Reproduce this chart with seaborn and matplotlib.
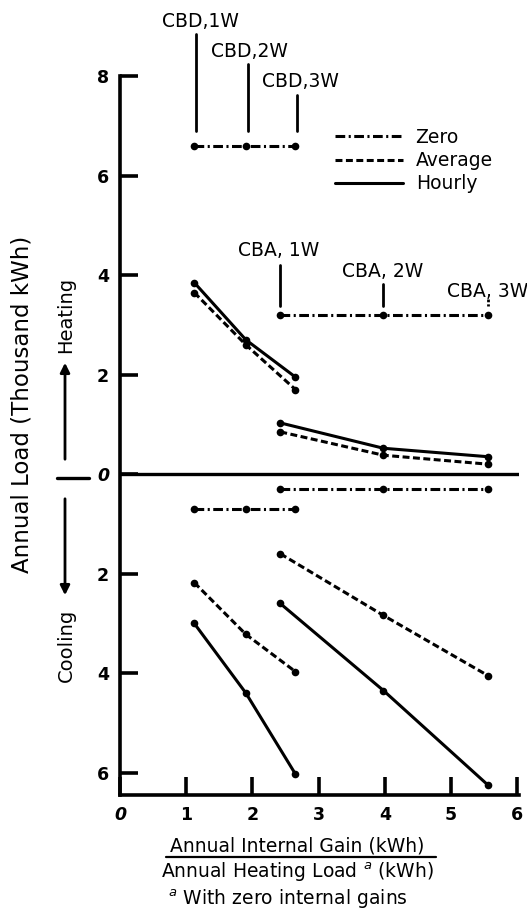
import matplotlib
matplotlib.use("Agg")
import matplotlib.pyplot as plt
from matplotlib.lines import Line2D
import pandas as pd
import seaborn as sns

# Data (cooling loads are plotted below zero)
x_cbd = [1.12, 1.9, 2.65]
x_cba = [2.42, 3.98, 5.56]

cbd_heat_zero = [6.6, 6.6, 6.6]
cbd_heat_avg = [3.65, 2.6, 1.7]
cbd_heat_hourly = [3.85, 2.7, 1.95]
cba_heat_zero = [3.2, 3.2, 3.2]
cba_heat_avg = [0.85, 0.38, 0.2]
cba_heat_hourly = [1.03, 0.52, 0.35]

cbd_cool_zero = [0.7, 0.7, 0.7]
cbd_cool_avg = [2.18, 3.22, 3.97]
cbd_cool_hourly = [3.0, 4.4, 6.03]
cba_cool_zero = [0.3, 0.3, 0.3]
cba_cool_avg = [1.6, 2.84, 4.05]
cba_cool_hourly = [2.6, 4.35, 6.25]

y_ticks = [-6, -4, -2, 0, 2, 4, 6, 8]
y_ticklabels = ['6', '4', '2', '0', '2', '4', '6', '8']
x_ticks = [0, 1, 2, 3, 4, 5, 6]

# case labels: (text, text x, text y, line x, line top, line bottom)
case_labels = [('CBD,1W', 1.22, 9.1, 1.14, 8.85, 6.9),
               ('CBD,2W', 1.95, 8.5, 1.93, 8.25, 6.9),
               ('CBD,3W', 2.72, 7.9, 2.68, 7.63, 6.9),
               ('CBA, 1W', 2.4, 4.5, 2.42, 4.2, 3.38),
               ('CBA, 2W', 3.97, 4.07, 3.98, 3.82, 3.38),
               ('CBA, 3W', 5.56, 3.68, 5.56, 3.53, 3.38)]

sns.set_style('ticks')
plt.rcParams['font.family'] = ['DejaVu Sans']
plt.rcParams['lines.scale_dashes'] = False
plt.rcParams['axes.edgecolor'] = 'black'
plt.rcParams['xtick.color'] = 'black'
plt.rcParams['ytick.color'] = 'black'
plt.rcParams['text.color'] = 'black'

styles = {
    'Zero': (0, (7, 2.5, 1.5, 2.5)),
    'Average': (0, (5, 2.5)),
    'Hourly': '-',
}

series = [
    (x_cbd, cbd_heat_zero, 'Zero', 1), (x_cbd, cbd_heat_avg, 'Average', 1),
    (x_cbd, cbd_heat_hourly, 'Hourly', 1), (x_cba, cba_heat_zero, 'Zero', 1),
    (x_cba, cba_heat_avg, 'Average', 1), (x_cba, cba_heat_hourly, 'Hourly', 1),
    (x_cbd, cbd_cool_zero, 'Zero', -1), (x_cbd, cbd_cool_avg, 'Average', -1),
    (x_cbd, cbd_cool_hourly, 'Hourly', -1), (x_cba, cba_cool_zero, 'Zero', -1),
    (x_cba, cba_cool_avg, 'Average', -1), (x_cba, cba_cool_hourly, 'Hourly', -1),
]

fig = plt.figure(figsize=(5.27, 9.17), dpi=100)
ax = fig.add_axes([0.228, 0.133, 0.757, 0.784])

for xs, ys, method, sign in series:
    d = pd.DataFrame({'x': xs, 'y': [sign * v for v in ys]})
    sns.lineplot(data=d, x='x', y='y', ax=ax, color='black', linewidth=2.2,
                 linestyle=styles[method], marker='o', markersize=5.5,
                 markeredgewidth=0, clip_on=False)

ax.axhline(0, color='black', linewidth=2.4)

for txt, tx, ty, lx, top, bot in case_labels:
    ls = (0, (2, 1.5)) if txt == 'CBA, 3W' else '-'
    ax.plot([lx, lx], [top, bot], color='black', linewidth=2.0, linestyle=ls,
            clip_on=False)
    ax.text(tx, ty, txt, ha='center', va='center', fontsize=13.5, clip_on=False)

ax.set_xlim(0, 6.03)
ax.set_ylim(-6.45, 8)
ax.set_xticks(x_ticks)
ax.set_yticks(y_ticks)
ax.set_yticklabels(y_ticklabels)
ax.set_xlabel('')
ax.set_ylabel('')
ax.tick_params(direction='in', length=13, width=2.6, labelsize=12.5, pad=8,
               labelcolor='black')
for lbl in ax.get_xticklabels() + ax.get_yticklabels():
    lbl.set_fontweight('bold')
    if lbl.get_text() == '0':
        lbl.set_fontstyle('italic')
for s in ['top', 'right']:
    ax.spines[s].set_visible(False)
for s in ['left', 'bottom']:
    ax.spines[s].set_linewidth(2.6)

# legend
handles = [Line2D([], [], color='black', linewidth=2.2, linestyle=styles[m])
           for m in ['Zero', 'Average', 'Hourly']]
leg = ax.legend(handles, ['Zero', 'Average', 'Hourly'], loc='upper left',
                bbox_to_anchor=(335 / 527, 1 - 128 / 917),
                bbox_transform=fig.transFigure, frameon=False, fontsize=13.5,
                handlelength=3.6, handletextpad=0.7, labelspacing=0.22,
                borderpad=0, borderaxespad=0)
for t in leg.get_texts():
    t.set_color('black')

# y label and heating / cooling arrows
fig.text(22 / 527, 1 - 404 / 917, 'Annual Load (Thousand kWh)', rotation=90,
         ha='center', va='center', fontsize=16.5)
fig.text(66 / 527, 1 - 315 / 917, 'Heating', rotation=90, ha='center', va='center',
         fontsize=14)
fig.text(66 / 527, 1 - 645 / 917, 'Cooling', rotation=90, ha='center', va='center',
         fontsize=14)
arrow = dict(arrowstyle='-|>', color='black', linewidth=2.0, mutation_scale=14)
fig.add_artist(plt.Line2D([57 / 527, 89 / 527], [1 - 478 / 917] * 2, color='black',
                          linewidth=2.4))
ax.annotate('', xy=(65 / 527, 1 - 360 / 917), xytext=(65 / 527, 1 - 462 / 917),
            xycoords='figure fraction', arrowprops=arrow)
ax.annotate('', xy=(65 / 527, 1 - 598 / 917), xytext=(65 / 527, 1 - 496 / 917),
            xycoords='figure fraction', arrowprops=arrow)

# x label as a fraction
fig.text(297 / 527, 1 - 846 / 917, 'Annual Internal Gain (kWh)', ha='center',
         va='center', fontsize=13.5)
fig.add_artist(plt.Line2D([166 / 527, 436 / 527], [1 - 857 / 917] * 2, color='black',
                          linewidth=1.6))
fig.text(297 / 527, 1 - 872 / 917, 'Annual Heating Load $^{a}$ (kWh)', ha='center',
         va='center', fontsize=13.5)
fig.text(288 / 527, 1 - 899 / 917, '$^{a}$ With zero internal gains', ha='center',
         va='center', fontsize=13.5)

fig.savefig('out.png', dpi=100)
